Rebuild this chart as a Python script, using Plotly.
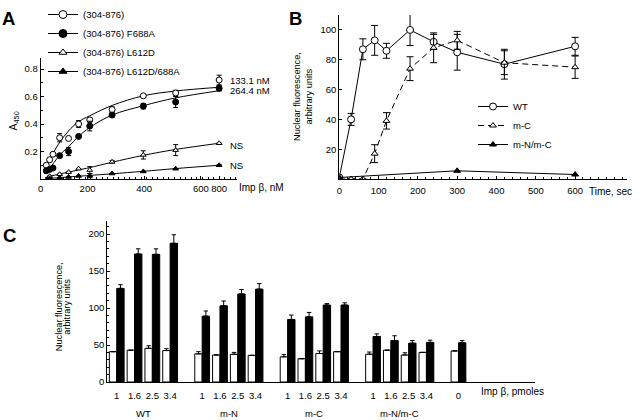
import plotly.graph_objects as go

FONT = "Liberation Sans, Arial, Helvetica, sans-serif"
INK = "#000000"
W, H = 640, 420
FS = 9.5

# ---------------- Panel A : binding curves ----------------
a_conc = [25, 40, 55, 85, 125, 170, 220, 320, 460, 605, 800]
a_wt = [0.10, 0.14, 0.18, 0.30, 0.295, 0.40, 0.43, 0.505, 0.605, 0.625, 0.72]
a_wt_err = [None, 0.015, None, 0.03, None, 0.025, 0.015, 0.02, 0.01, 0.02, 0.035]
a_f688a = [0.06, 0.07, 0.08, 0.17, 0.20, 0.31, 0.385, 0.465, 0.53, 0.56, 0.66]
a_f688a_err = [None, None, 0.01, 0.01, 0.03, 0.01, 0.035, 0.015, 0.02, 0.04, 0.02]
a_tri_conc = [40, 85, 125, 170, 220, 320, 460, 605, 800]
a_l612d = [0.02, 0.035, 0.05, 0.075, 0.065, 0.125, 0.175, 0.21, 0.26]
a_l612d_err = [None, None, None, None, 0.025, 0.01, 0.03, 0.04, None]
a_l612d688a = [0.005, 0.01, 0.015, 0.022, 0.024, 0.04, 0.055, 0.075, 0.10]
a_l612d688a_err = [None, None, None, None, 0.015, None, None, None, 0.005]

a_fit_conc = [20, 40, 60, 85, 125, 170, 220, 320, 460, 605, 800]
a_wt_fit = [0.08, 0.14, 0.20, 0.267, 0.35, 0.417, 0.46, 0.535, 0.605, 0.64, 0.667]
a_f688a_fit = [0.04, 0.08, 0.12, 0.175, 0.235, 0.31, 0.375, 0.465, 0.533, 0.59, 0.642]
a_l612d_fit = [0.01, 0.02, 0.027, 0.037, 0.05, 0.066, 0.083, 0.122, 0.172, 0.215, 0.26]
a_l612d688a_fit = [0.003, 0.005, 0.007, 0.01, 0.015, 0.02, 0.026, 0.038, 0.056, 0.076, 0.10]

a_names = ["(304-876)", "(304-876) F688A", "(304-876) L612D", "(304-876) L612D/688A"]
a_x_ticktext = ["0", "200", "400", "600", "800"]
a_y_ticktext = ["0.2", "0.4", "0.6", "0.8"]
a_kd_labels = ["133.1 nM", "264.4 nM"]

# ---------------- Panel B : import kinetics ----------------
b_time = [0, 30, 60, 90, 120, 180, 240, 300, 420, 600]
b_wt = [1, 40, 87, 93, 86, 100, 92, 85, 77, 89]
b_wt_err = [None, 4, 7, 10, 5, 10.5, 5, 12, 10, 6]
b_mc = [0, 0, 0, 17, 39, 74, 88, 93, 78, 75]
b_mc_err = [None, None, None, 6, 5.5, 8, 10, 6, 8, 7.5]
b_mnmc_time = [0, 300, 600]
b_mnmc = [1, 5.5, 3]
b_names = ["WT", "m-C", "m-N/m-C"]

# ---------------- Panel C : dose response bars ----------------
c_groups = ["WT", "m-N", "m-C", "m-N/m-C"]
c_doses = ["1", "1.6", "2.5", "3.4"]
c_open = [[41, 43, 45.5, 42.5], [38, 36.5, 37.5, 36], [34, 31.5, 38.5, 41], [37.5, 43, 36.5, 40]]
c_open_err = [[0, 0, 3.5, 2.5], [3, 0, 2.5, 0], [3, 0, 3.5, 0], [3, 0, 3, 0]]
c_filled = [[126.5, 173, 172.5, 187.5], [89, 103, 119, 125.5], [84.5, 88, 104, 104], [61.5, 56, 52.5, 53.5]]
c_filled_err = [[5, 7, 7.5, 11.5], [7, 6.5, 6, 7.5], [6, 6, 2, 3], [3.5, 6.5, 3.5, 3]]
c_ctrl_label = "0"
c_ctrl_open, c_ctrl_open_err = 42, 0
c_ctrl_filled, c_ctrl_filled_err = 53, 3

y_title_lines = ["Nuclear fluorescence,", "arbitrary units"]

# ---------------- helpers ----------------
def px(x):
    return x / W

def py(y):
    return 1 - y / H

fig = go.Figure()

# Panel A fitted curves
for ys in [a_wt_fit, a_f688a_fit, a_l612d_fit, a_l612d688a_fit]:
    fig.add_trace(go.Scatter(x=a_fit_conc, y=ys, mode="lines", line=dict(color=INK, width=1, shape="spline"),
                             showlegend=False, hoverinfo="skip", xaxis="x", yaxis="y"))

a_styles = [
    dict(symbol="circle", size=6, color="white", line=dict(color=INK, width=1)),
    dict(symbol="circle", size=6, color=INK, line=dict(color=INK, width=1)),
    dict(symbol="triangle-up", size=5, color="white", line=dict(color=INK, width=1)),
    dict(symbol="triangle-up", size=5, color=INK, line=dict(color=INK, width=1)),
]
a_series = [(a_conc, a_wt, a_wt_err), (a_conc, a_f688a, a_f688a_err),
            (a_tri_conc, a_l612d, a_l612d_err), (a_tri_conc, a_l612d688a, a_l612d688a_err)]
for (xs, ys, es), st in zip(a_series, a_styles):
    fig.add_trace(go.Scatter(x=xs, y=ys, mode="markers", marker=st,
                             error_y=dict(type="data", array=es, visible=True, color=INK, thickness=1, width=2.5),
                             showlegend=False, xaxis="x", yaxis="y"))

# Panel A legend entries (line + marker keys)
for name, st in zip(a_names, a_styles):
    st_leg = dict(st)
    st_leg["size"] = st["size"] + 2
    fig.add_trace(go.Scatter(x=[None], y=[None], mode="lines+markers", name=name, marker=st_leg,
                             line=dict(color=INK, width=1), legend="legend", xaxis="x", yaxis="y"))

# Panel B
fig.add_trace(go.Scatter(x=b_time, y=b_wt, name=b_names[0], mode="lines+markers",
                         line=dict(color=INK, width=1),
                         marker=dict(symbol="circle", size=7, color="white", line=dict(color=INK, width=1)),
                         error_y=dict(type="data", array=b_wt_err, visible=True, color=INK, thickness=1, width=3.5),
                         legend="legend2", xaxis="x2", yaxis="y2"))
fig.add_trace(go.Scatter(x=b_time, y=b_mc, name=b_names[1], mode="lines+markers",
                         line=dict(color=INK, width=1, dash="6px,4px"),
                         marker=dict(symbol="triangle-up", size=6, color="white", line=dict(color=INK, width=1)),
                         error_y=dict(type="data", array=b_mc_err, visible=True, color=INK, thickness=1, width=3.5),
                         legend="legend2", xaxis="x2", yaxis="y2"))
fig.add_trace(go.Scatter(x=b_mnmc_time, y=b_mnmc, name=b_names[2], mode="lines+markers",
                         line=dict(color=INK, width=1),
                         marker=dict(symbol="triangle-up", size=6, color=INK, line=dict(color=INK, width=1)),
                         legend="legend2", xaxis="x2", yaxis="y2"))

# Panel C
group_step = 4.8
c_x, c_o, c_oe, c_f, c_fe, c_tick = [], [], [], [], [], []
for g in range(len(c_groups)):
    for j in range(len(c_doses)):
        c_x.append(g * group_step + j)
        c_o.append(c_open[g][j]); c_oe.append(c_open_err[g][j])
        c_f.append(c_filled[g][j]); c_fe.append(c_filled_err[g][j])
        c_tick.append(c_doses[j])
c_x.append(len(c_groups) * group_step)
c_o.append(c_ctrl_open); c_oe.append(c_ctrl_open_err)
c_f.append(c_ctrl_filled); c_fe.append(c_ctrl_filled_err)
c_tick.append(c_ctrl_label)

fig.add_trace(go.Bar(x=c_x, y=c_o, marker=dict(color="white", line=dict(color=INK, width=1)),
                     error_y=dict(type="data", array=c_oe, arrayminus=[0] * len(c_oe), symmetric=False,
                                  color=INK, thickness=1, width=2.2),
                     showlegend=False, xaxis="x3", yaxis="y3"))
fig.add_trace(go.Bar(x=c_x, y=c_f, marker=dict(color=INK, line=dict(color=INK, width=1)),
                     error_y=dict(type="data", array=c_fe, arrayminus=[0] * len(c_fe), symmetric=False,
                                  color=INK, thickness=1, width=2.2),
                     showlegend=False, xaxis="x3", yaxis="y3"))

tickfont = dict(family=FONT, size=FS, color=INK)
base = dict(showline=True, linecolor=INK, linewidth=1, showgrid=False, zeroline=False,
            ticks="inside", tickcolor=INK, tickwidth=1, ticklen=3, tickfont=tickfont,
            tickangle=0, fixedrange=True)

fig.update_layout(
    width=W, height=H, autosize=False,
    margin=dict(l=0, r=0, t=0, b=0, autoexpand=False),
    paper_bgcolor="white", plot_bgcolor="rgba(0,0,0,0)",
    font=dict(family=FONT, size=FS, color=INK),
    barmode="group", bargap=0.17, bargroupgap=0,
    xaxis=dict(base, domain=[px(40.7), px(237)], range=[0, 880], anchor="y",
               tickmode="array", tickvals=[0, 210, 464, 718, 800], ticktext=a_x_ticktext,
               ticklabelstandoff=1,
               minor=dict(ticks="inside", dtick=25, tick0=0, ticklen=2, tickcolor=INK, showgrid=False)),
    yaxis=dict(base, domain=[py(179), py(58)], range=[0, 0.88], anchor="x",
               tickmode="array", tickvals=[0.2, 0.4, 0.6, 0.8], ticktext=a_y_ticktext,
               minor=dict(ticks="inside", dtick=0.1, tick0=0, ticklen=2, tickcolor=INK, showgrid=False)),
    xaxis2=dict(base, domain=[px(339.3), px(627)], range=[0, 732], anchor="y2",
                tickmode="array", tickvals=[0, 100, 200, 300, 400, 500, 600],
                ticklabelstandoff=3,
                minor=dict(ticks="inside", dtick=20, tick0=0, ticklen=2, tickcolor=INK, showgrid=False)),
    yaxis2=dict(base, domain=[py(179), py(15)], range=[0, 110], anchor="x2",
                tickmode="array", tickvals=[20, 40, 60, 80, 100]),
    xaxis3=dict(base, domain=[px(107.3), px(535)], range=[-0.53, 23.5], anchor="y3",
                tickmode="array", tickvals=c_x, ticktext=c_tick, ticks="", ticklabelstandoff=5),
    yaxis3=dict(base, domain=[py(382), py(220.7)], range=[0, 218], anchor="x3",
                tickmode="array", tickvals=[0, 50, 100, 150, 200],
                minor=dict(ticks="inside", dtick=10, tick0=0, ticklen=2, tickcolor=INK, showgrid=False)),
    legend=dict(x=px(43), y=1, xanchor="left", yanchor="top", bgcolor="rgba(0,0,0,0)",
                font=dict(family=FONT, size=FS, color=INK), itemwidth=30, tracegroupgap=0),
    legend2=dict(x=px(473), y=py(92), xanchor="left", yanchor="top", bgcolor="rgba(0,0,0,0)",
                 font=dict(family=FONT, size=FS, color=INK), itemwidth=30, tracegroupgap=0),
)

ann = []
def txt(text, x, y, size=FS, xanchor="left", angle=0, xref="paper"):
    ann.append(dict(text=text, x=x, y=y, xref=xref, yref="paper", xanchor=xanchor, yanchor="middle",
                    showarrow=False, textangle=angle, font=dict(family=FONT, size=size, color=INK)))

# panel letters
txt("<b>A</b>", px(8.5), py(18.5), size=18.5, xanchor="center")
txt("<b>B</b>", px(295), py(18.5), size=18.5, xanchor="center")
txt("<b>C</b>", px(9), py(235), size=18.5, xanchor="center")
# panel A labels
txt(a_kd_labels[0], px(228), py(81))
txt(a_kd_labels[1], px(228), py(90.7))
txt("NS", px(228), py(145))
txt("NS", px(228), py(165.7))
txt("Imp β, nM", px(237), py(188), size=10)
txt("A<sub>450</sub>", px(13.5), py(121), size=10.5, xanchor="center", angle=-90)
# panel B labels
txt("Time, sec", px(587), py(191.7), size=10)
txt(y_title_lines[0], px(297), py(97), size=9.2, xanchor="center", angle=-90)
txt(y_title_lines[1], px(308.5), py(97), size=9.2, xanchor="center", angle=-90)
# panel C labels
txt("Imp β, pmoles", px(479), py(391.7), size=10)
txt(y_title_lines[0], px(58.5), py(306.7), size=9.2, xanchor="center", angle=-90)
txt(y_title_lines[1], px(67), py(306.7), size=9.2, xanchor="center", angle=-90)
for g, name in enumerate(c_groups):
    txt(name, g * group_step + 1.5, py(413.3), xanchor="center", xref="x3")

fig.update_layout(annotations=ann)
fig.write_html("out.html", config={"displayModeBar": False},
               post_script="document.body.style.margin='0';document.body.style.padding='0';")
